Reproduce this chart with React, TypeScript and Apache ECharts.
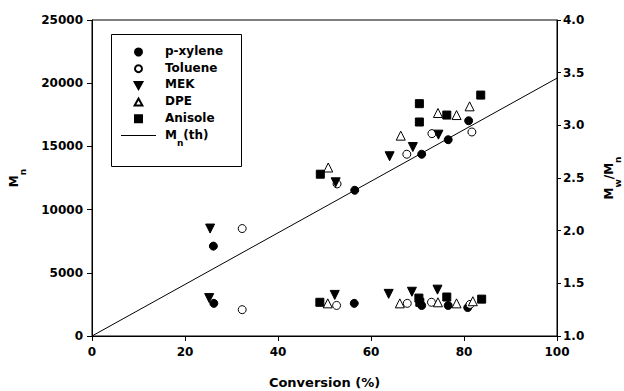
import React, { useEffect, useRef } from "react";
import * as echarts from "echarts";

// Number-average molecular weight (left axis) vs. conversion, per solvent
const pXyleneMn = [[26.1, 7110], [56.5, 11530], [70.9, 14380], [76.6, 15530], [81.0, 17030]];
const tolueneMn = [[32.3, 8500], [52.7, 12030], [67.7, 14380], [73.1, 16010], [81.7, 16140]];
const mekMn = [[25.4, 8500], [52.4, 12160], [64.0, 14220], [69.0, 14950], [74.5, 15930]];
const dpeMn = [[50.8, 13330], [66.4, 15850], [74.4, 17640], [78.4, 17480], [81.2, 18170]];
const anisoleMn = [[49.1, 12800], [70.4, 18380], [70.4, 16930], [76.3, 17480], [83.6, 19060]];

// Polydispersity Mw/Mn (right axis) vs. conversion, per solvent
const pXylenePdi = [[26.2, 1.31], [56.4, 1.31], [70.9, 1.29], [76.6, 1.29], [80.8, 1.27]];
const toluenePdi = [[32.3, 1.25], [52.6, 1.29], [67.8, 1.31], [73.0, 1.32], [81.3, 1.30]];
const mekPdi = [[25.2, 1.36], [52.2, 1.39], [63.8, 1.40], [68.8, 1.42], [74.3, 1.44]];
const dpePdi = [[50.7, 1.31], [66.2, 1.31], [74.4, 1.32], [78.4, 1.31], [81.9, 1.33]];
const anisolePdi = [[49.0, 1.32], [70.3, 1.36], [70.5, 1.32], [76.3, 1.37], [83.8, 1.35]];

// Theoretical Mn line
const mnTheory = [[0, 0], [100, 20400]];

const xTicks = { min: 0, max: 100, interval: 20 };
const mnTicks = { min: 0, max: 25000, interval: 5000 };
const pdiTicks = { min: 1, max: 4, interval: 0.5 };

const FONT = "DejaVu Sans";

const filled = { color: "#000", borderColor: "#000", borderWidth: 1, opacity: 1 };
const hollow = { color: "#fff", borderColor: "#000", borderWidth: 1, opacity: 1 };

// Legend icons as paths so they keep their aspect ratio inside the wide icon box
const ICON_UP = "path://M5,0L10,9L0,9Z";
const ICON_DOWN = "path://M0,0L10,0L5,9Z";
const ICON_SQUARE = "path://M0,0H10V10H0Z";
const ICON_LINE = "path://M0,0H35V1H0Z";

type Solvent = {
  name: string;
  symbol: string;
  rotate: number;
  size: number;
  icon: string;
  style: any;
  mn: number[][];
  pdi: number[][];
};

const solvents: Solvent[] = [
  { name: "p-xylene", symbol: "circle", rotate: 0, size: 8, icon: "circle", style: filled, mn: pXyleneMn, pdi: pXylenePdi },
  { name: "Toluene", symbol: "circle", rotate: 0, size: 8, icon: "circle", style: hollow, mn: tolueneMn, pdi: toluenePdi },
  { name: "MEK", symbol: "triangle", rotate: 180, size: 9, icon: ICON_DOWN, style: filled, mn: mekMn, pdi: mekPdi },
  { name: "DPE", symbol: "triangle", rotate: 0, size: 9, icon: ICON_UP, style: hollow, mn: dpeMn, pdi: dpePdi },
  { name: "Anisole", symbol: "rect", rotate: 0, size: 8, icon: ICON_SQUARE, style: filled, mn: anisoleMn, pdi: anisolePdi },
];

const subRich = {
  m: { fontFamily: FONT, fontWeight: "bold", fontSize: 12, color: "#000", lineHeight: 14, verticalAlign: "top" },
  s: { fontFamily: FONT, fontWeight: "bold", fontSize: 9, color: "#000", lineHeight: 9, verticalAlign: "bottom", padding: [0, 0, -5, 0] },
};

export default function App() {
  const ref = useRef<HTMLDivElement>(null);

  useEffect(() => {
    if (!ref.current) return;
    const chart = echarts.init(ref.current, undefined, { renderer: "svg" });

    const series: any[] = [];
    solvents.forEach((s) => {
      [s.mn, s.pdi].forEach((data, i) => {
        series.push({
          name: s.name,
          type: "scatter",
          yAxisIndex: i,
          data,
          symbol: s.symbol,
          symbolRotate: s.rotate,
          symbolSize: s.size,
          itemStyle: s.style,
          emphasis: { disabled: true },
        });
      });
    });
    series.push({
      name: "Mn(th)",
      type: "line",
      yAxisIndex: 0,
      data: mnTheory,
      symbol: "none",
      lineStyle: { color: "#000", width: 1 },
      itemStyle: { color: "#000" },
    });

    const axisLabel = { fontFamily: FONT, fontWeight: "bold", fontSize: 12, color: "#000" };

    chart.setOption({
      animation: false,
      grid: {
        left: 92,
        right: 67,
        top: 20,
        bottom: 55,
        outerBoundsMode: "none",
        show: true,
        borderColor: "#000",
        borderWidth: 1,
      },
      legend: {
        left: 121,
        top: 45,
        orient: "vertical",
        padding: 0,
        itemGap: 4.7,
        itemWidth: 35,
        itemHeight: 7,
        symbolKeepAspect: true,
        selectedMode: false,
        data: [
          ...solvents.map((s) => ({ name: s.name, icon: s.icon })),
          { name: "Mn(th)", icon: ICON_LINE },
        ],
        formatter: (name: string) => (name === "Mn(th)" ? "{m|M}{s|n}{m|(th)}" : "{m|" + name + "}"),
        textStyle: { padding: [0, 0, 0, 4], rich: subRich },
      },
      graphic: [
        {
          type: "rect",
          shape: { x: 111.5, y: 34.5, width: 130, height: 132 },
          style: { fill: "none", stroke: "#000", lineWidth: 1 },
          silent: true,
        },
      ],
      xAxis: {
        type: "value",
        ...xTicks,
        name: "Conversion (%)",
        nameLocation: "middle",
        nameGap: 40,
        nameTextStyle: { fontFamily: FONT, fontWeight: "bold", fontSize: 13, color: "#000" },
        axisLine: { onZero: false, lineStyle: { color: "#000", width: 1 } },
        axisTick: { show: true, length: 5, lineStyle: { color: "#000" } },
        axisLabel: { ...axisLabel, margin: 10 },
        splitLine: { show: false },
      },
      yAxis: [
        {
          type: "value",
          ...mnTicks,
          position: "left",
          name: "{m|M}{s|n}",
          nameLocation: "middle",
          nameGap: 70,
          nameRotate: 90,
          nameTextStyle: { rich: subRich },
          axisLine: { show: true, lineStyle: { color: "#000", width: 1 } },
          axisTick: { show: true, length: 5, lineStyle: { color: "#000" } },
          axisLabel: { ...axisLabel, margin: 9, formatter: (v: number) => String(v) },
          splitLine: { show: false },
        },
        {
          type: "value",
          ...pdiTicks,
          position: "right",
          name: "{m|M}{s|w}{m|/M}{s|n}",
          nameLocation: "middle",
          nameGap: 46,
          nameRotate: 90,
          nameTextStyle: { rich: subRich },
          axisLine: { show: true, lineStyle: { color: "#000", width: 1 } },
          axisTick: { show: true, length: 4, lineStyle: { color: "#000" } },
          axisLabel: { ...axisLabel, margin: 6, formatter: (v: number) => v.toFixed(1) },
          splitLine: { show: false },
        },
      ],
      series,
    });

    return () => chart.dispose();
  }, []);

  return (
    <div
      ref={ref}
      style={{ position: "fixed", left: 0, top: 0, width: 624, height: 391, background: "#fff" }}
    />
  );
}
